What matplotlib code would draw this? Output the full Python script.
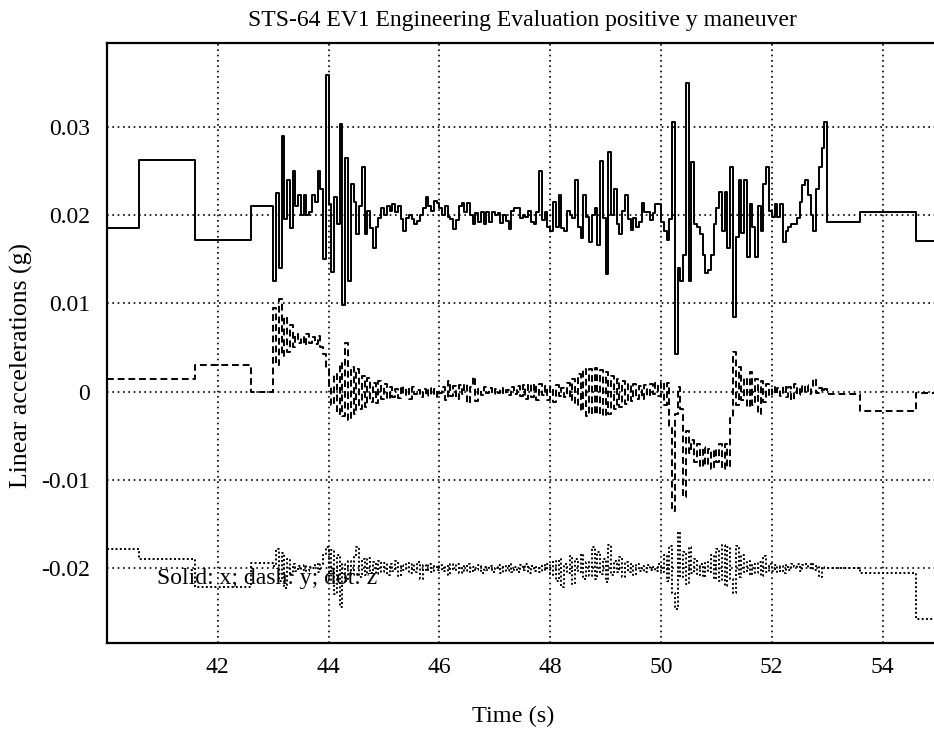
import numpy as np
import matplotlib.pyplot as plt
from matplotlib.ticker import FuncFormatter

plt.rcParams['font.family'] = ['Liberation Serif', 'DejaVu Serif']
plt.rcParams['axes.unicode_minus'] = False

# slow (about 1 Hz) held samples before and after the maneuver, in s and mg
pre_t = [40.0, 40.57, 41.59, 42.6]
pre_x = [18.5, 26.2, 17.2, 21.0]
pre_y = [1.4, 1.4, 3.0, 0.0]
pre_z = [-17.9, -19.0, -22.2, -19.4]

post_t = [53.0, 53.6, 54.6]
post_x = [19.2, 20.3, 17.1]
post_y = [-0.3, -2.2, -0.2]
post_z = [-20.0, -20.6, -25.8]

t_end = 55.0

# 20 Hz samples from 43.0 s, one row per second (mg)
fast_t0 = 43.0
fast_dt = 0.05

fast_x = [
    12.5, 22.5, 14.0, 29.0, 19.5, 24.0, 18.5, 25.0, 21.0, 22.3, 20.0, 22.3, 20.0, 20.3, 22.3, 21.5, 25.0, 23.0, 15.0, 35.9,
    21.2, 13.5, 22.0, 19.0, 30.3, 9.8, 26.5, 12.5, 23.5, 21.5, 17.8, 21.0, 25.4, 17.8, 20.5, 18.5, 16.3, 18.6, 19.7, 20.8,
    20.0, 21.0, 20.5, 21.3, 20.3, 21.0, 19.5, 18.2, 19.7, 20.0, 19.5, 19.0, 19.3, 20.0, 20.8, 22.0, 21.0, 20.5, 21.6, 21.4,
    20.8, 20.0, 21.0, 19.8, 19.5, 18.4, 19.4, 21.0, 21.4, 20.3, 21.4, 20.0, 19.0, 20.2, 19.2, 20.4, 19.0, 20.3, 19.2, 20.3,
    20.0, 20.2, 19.1, 20.0, 19.3, 18.4, 20.5, 20.8, 20.8, 19.7, 20.0, 19.8, 20.5, 19.2, 19.0, 20.3, 25.0, 19.4, 20.3, 18.7,
    18.2, 21.5, 18.6, 22.3, 18.5, 18.2, 20.5, 20.0, 19.7, 24.0, 18.6, 17.4, 22.3, 19.8, 16.9, 20.0, 20.8, 16.6, 26.1, 19.7,
    13.3, 27.2, 20.0, 23.0, 19.0, 17.8, 20.5, 22.3, 19.6, 18.3, 19.7, 18.6, 19.2, 21.4, 20.3, 20.3, 19.4, 20.2, 21.2, 21.2,
    19.2, 18.2, 17.2, 19.5, 30.5, 4.2, 14.0, 12.5, 15.5, 35.0, 12.5, 26.0, 19.0, 18.6, 17.8, 15.5, 13.4, 13.8, 15.5, 19.0,
    20.8, 22.6, 18.2, 22.6, 16.3, 25.4, 8.5, 17.5, 24.0, 18.0, 24.0, 15.2, 21.3, 18.6, 15.2, 21.0, 18.2, 23.5, 25.4, 20.5,
    19.8, 21.2, 19.8, 21.2, 17.0, 18.2, 18.6, 19.0, 19.0, 19.7, 21.5, 23.4, 24.0, 22.3, 20.0, 18.2, 23.0, 25.4, 27.6, 30.6,
]

fast_y = [
    9.5, 3.0, 10.5, 4.0, 8.5, 4.5, 7.5, 5.0, 6.5, 5.5, 6.2, 5.3, 6.5, 5.5, 6.2, 5.4, 6.3, 5.0, 4.2, 2.5,
    0.5, -1.5, 2.0, -2.5, 3.2, -2.8, 5.5, -3.2, 2.8, -2.5, 2.5, -2.0, 1.8, -1.8, 1.5, -1.2, 1.0, -1.3, 1.2, -0.8,
    0.8, -0.9, 0.5, -0.6, 0.3, -0.7, 0.6, -0.4, 0.4, -0.8, 0.5, -0.3, 0.2, -0.6, 0.3, -0.5, 0.4, -0.4, 0.3, -0.6,
    -0.2, 0.5, -1.0, 1.2, -0.5, 0.6, -0.8, 0.7, -0.3, 0.8, -1.3, 0.5, 1.6, -1.1, 0.3, -0.4, 0.5, -0.2, 0.4, -0.3,
    0.3, -0.2, 0.4, -0.3, 0.2, -0.4, 0.5, -0.3, 0.6, -0.5, 0.7, -0.8, 0.8, -0.6, 0.9, -1.0, 0.8, -0.4, 0.6, -1.0,
    0.5, -1.2, 0.7, -0.5, 0.4, -0.6, 1.0, -1.0, 1.4, -1.5, 2.0, -2.2, 2.5, -2.8, 2.6, -2.6, 2.7, -2.5, 2.4, -2.8,
    2.2, -2.6, 1.8, -2.0, 1.4, -1.8, 1.2, -1.4, 0.9, -1.1, 0.8, -0.9, 0.6, -0.8, 0.7, -0.5, 0.9, -0.3, 1.0, -0.5,
    1.1, -1.5, 1.0, -4.0, -13.5, -2.5, 0.5, -2.0, -12.0, -4.5, -7.0, -5.5, -8.0, -6.0, -8.5, -6.3, -8.3, -6.5, -8.8, -6.5,
    -8.0, -6.0, -8.8, -6.0, -8.5, -3.0, 4.5, -1.5, 2.8, -1.0, 1.5, -1.8, 2.2, -1.5, 1.4, -2.5, 1.2, -1.2, 0.8, -0.5,
    0.5, -0.3, 0.4, -0.5, 0.6, -0.6, 0.5, -1.0, 0.8, -0.4, 0.6, -0.2, 0.7, -0.3, 0.5, 1.4, -0.2, 0.4, -0.1, 0.3,
]

fast_z = [
    -19.8, -17.8, -21.5, -18.3, -22.3, -19.0, -20.8, -19.5, -20.3, -19.8, -20.2, -19.7, -20.3, -19.9, -20.0, -19.6, -20.4, -19.5, -18.5, -17.6,
    -21.5, -18.0, -23.0, -18.5, -24.4, -19.5, -21.5, -19.2, -20.8, -18.6, -17.6, -21.0, -19.0, -20.8, -18.9, -20.6, -19.3, -20.7, -19.2, -20.5,
    -19.4, -20.8, -19.5, -20.3, -19.2, -20.9, -19.7, -20.2, -19.4, -20.6, -19.6, -20.4, -19.3, -21.2, -19.7, -20.3, -19.6, -20.5, -19.8, -20.2,
    -19.7, -20.3, -19.8, -20.8, -19.6, -20.2, -19.5, -20.6, -19.8, -20.3, -19.6, -20.4, -19.9, -20.2, -19.7, -20.6, -19.9, -20.2, -19.8, -20.5,
    -20.0, -19.7, -20.6, -19.8, -20.3, -19.6, -20.5, -19.9, -20.4, -19.7, -20.2, -19.6, -20.6, -19.8, -20.3, -19.9, -20.4, -19.7, -20.2, -19.6,
    -20.8, -19.2, -21.5, -19.0, -22.2, -19.5, -20.6, -18.6, -21.8, -19.0, -20.5, -18.4, -21.2, -19.3, -20.9, -17.6, -21.3, -18.2, -20.7, -19.0,
    -21.6, -17.4, -20.8, -19.2, -20.5, -18.8, -21.0, -19.3, -20.4, -19.5, -20.8, -19.6, -20.3, -19.8, -20.5, -19.7, -20.2, -19.9, -20.3, -19.6,
    -20.5, -18.5, -21.5, -17.5, -22.8, -24.7, -15.9, -21.0, -18.2, -21.8, -17.6, -20.6, -19.0, -20.8, -19.5, -21.0, -19.3, -20.5, -18.5, -21.2,
    -17.8, -21.5, -17.4, -22.0, -17.6, -21.2, -22.8, -17.5, -21.0, -18.5, -20.5, -19.2, -20.8, -19.5, -20.6, -19.3, -20.9, -18.6, -20.4, -19.5,
    -20.3, -19.7, -20.5, -19.8, -20.6, -19.7, -20.2, -19.5, -19.9, -19.6, -20.3, -19.7, -19.6, -20.0, -19.4, -20.2, -19.8, -21.0, -19.9, -20.0,
]


def series(pre, fast, post):
    # held samples -> (time, g) arrays for a post step plot
    t = np.concatenate([pre_t, fast_t0 + fast_dt * np.arange(len(fast)), post_t, [t_end]])
    v = np.concatenate([pre, fast, post, [post[-1]]]) / 1000.0
    return t, v


fig = plt.figure(figsize=(9.34, 7.34), dpi=100)
ax = fig.add_axes([107 / 934, 1 - 643 / 734, 831 / 934, 600 / 734])

for pre, fast, post, ls in [(pre_x, fast_x, post_x, '-'),
                            (pre_y, fast_y, post_y, (0, (3.5, 2))),
                            (pre_z, fast_z, post_z, (0, (1, 1.2)))]:
    t, v = series(pre, fast, post)
    ax.step(t, v, where='post', color='black', lw=1.4, linestyle=ls)

ax.set_xlim(40, 55)
ax.set_ylim(-0.0285, 0.0395)
ax.set_xticks([42, 44, 46, 48, 50, 52, 54])
ax.set_yticks([-0.02, -0.01, 0, 0.01, 0.02, 0.03])
ax.yaxis.set_major_formatter(FuncFormatter(lambda v, p: f'{v:g}'))
ax.grid(True, color='black', linestyle=(0, (1, 2.2)), lw=1.2)
ax.tick_params(direction='in', length=0, labelsize=17)
ax.tick_params(axis='x', pad=10)
ax.tick_params(axis='y', pad=12)
for s in ax.spines.values():
    s.set_linewidth(1.6)

ax.text(40.9, -0.0212, 'Solid: x; dash: y; dot: z', fontsize=17, va='center')

ax.set_title('STS-64 EV1 Engineering Evaluation positive y maneuver', fontsize=17, pad=12)
ax.set_xlabel('Time (s)', fontsize=17.5)
ax.set_ylabel('Linear accelerations (g)', fontsize=18.5)
ax.xaxis.set_label_coords(0.489, -0.104)
ax.yaxis.set_label_coords(-0.089, 0.463)

fig.savefig('out.png', dpi=100)
